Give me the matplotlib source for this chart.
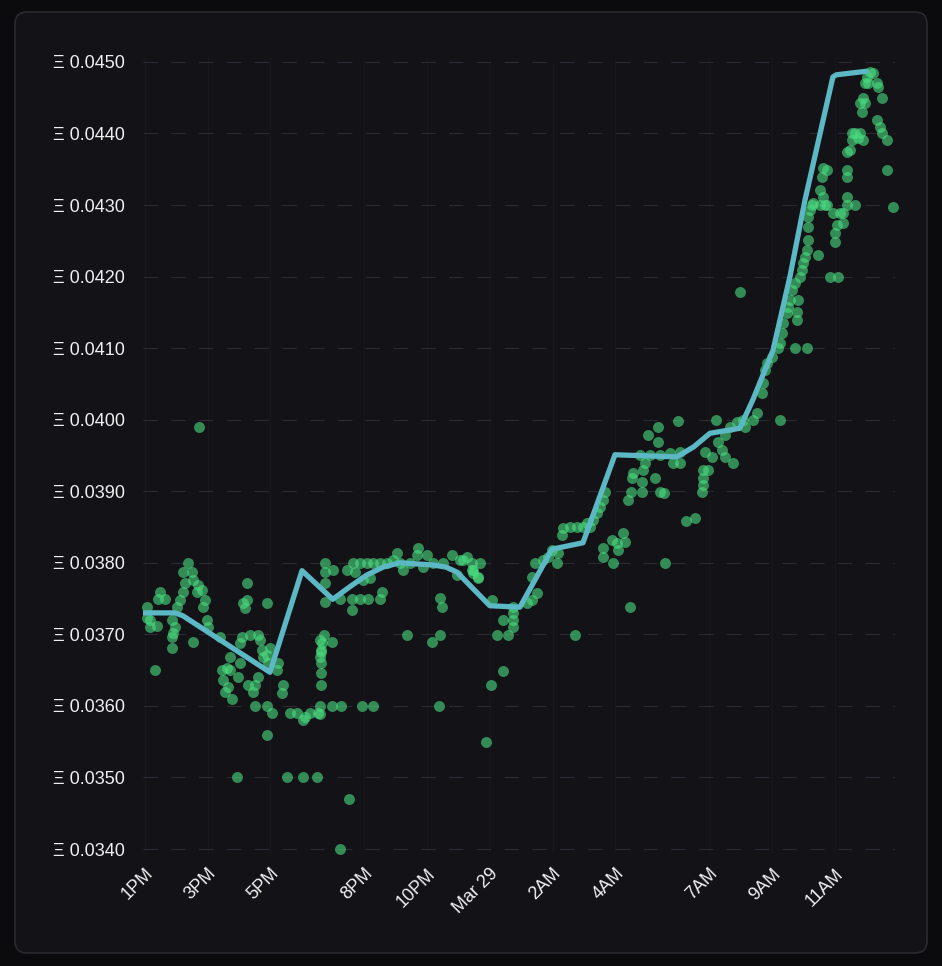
import matplotlib
matplotlib.use("Agg")
import matplotlib.pyplot as plt
from matplotlib.patches import FancyBboxPatch

# hours after 1PM (Mar 28) and price in ETH
line_hours = [-0.06, 0.96, 1.21, 3.99, 5.01, 5.99, 6.55, 7.08, 7.6, 8.13, 9.18, 9.6,
              9.95, 11.0, 11.96, 12.98, 13.97, 14.99, 16.96, 17.5, 18.02, 18.97, 19.39,
              20.03, 20.57, 21.05, 21.94, 22.05, 23.02]
line_price = [0.03730, 0.03730, 0.03726, 0.03647, 0.03789, 0.03749, 0.03767, 0.03783,
              0.03794, 0.03800, 0.03797, 0.03794, 0.03787, 0.03740, 0.03738, 0.03819,
              0.03828, 0.03951, 0.03948, 0.03962, 0.03981, 0.03988, 0.04028, 0.04097,
              0.04200, 0.04307, 0.04479, 0.04482, 0.04487]

sale_hours = [
    0.16, 0.32, 0.06, 0.41, 0.48, 0.64, 0.38, 0.16, 0.06, 0.86, 0.86, 0.89, 0.96, 1.02,
    1.12, 1.21, 1.28, 1.37, 1.21, 1.50, 1.53, 1.69, 1.66, 1.82, 1.91, 1.85, 1.98, 2.01,
    1.53, 0.86, 2.39, 2.46, 2.49, 2.61, 2.71, 2.65, 2.55, 2.77, 2.71, 2.97, 3.03, 3.09,
    3.03, 3.13, 3.25, 3.19, 3.25, 3.35, 3.60, 3.67, 3.73, 3.76, 3.89, 3.92, 4.24, 4.21,
    3.60, 3.51, 3.28, 3.44, 4.40, 4.37, 3.89, 3.99, 3.51, 3.89, 4.05, 4.62, 4.85, 5.04,
    5.26, 5.52, 5.58, 3.89, 5.58, 5.61, 5.58, 5.61, 5.61, 5.61, 5.71, 5.74, 5.74, 2.93,
    4.53, 5.04, 5.48,
    5.74, 5.99, 5.74, 6.44, 6.63, 6.86, 6.70, 7.08, 7.27, 7.49, 7.72, 7.91, 8.04, 7.17,
    6.95, 7.56, 7.49, 7.11, 6.86, 6.60, 6.60, 6.22, 8.23, 8.13, 8.71, 8.67, 8.99, 8.86,
    8.45, 9.18, 9.50, 9.79, 9.95, 10.04, 10.27, 10.43, 10.68, 10.62, 10.46, 9.41, 9.47,
    9.41, 9.15, 8.35, 11.07, 11.42, 11.73, 11.73, 11.73, 11.22, 11.58, 11.73, 11.42,
    11.03, 5.96, 5.64, 5.61, 5.58, 5.10, 5.96, 6.25, 6.92, 7.27, 9.38, 10.87, 6.51, 6.22,
    10.43, 10.46, 10.62, 10.14, 13.71, 12.18, 12.34, 12.50, 12.34, 12.44, 12.69, 12.85,
    12.98, 13.14, 13.17, 13.30, 13.33, 13.55, 13.78, 13.97, 14.09, 14.19, 14.29, 14.41,
    14.51, 14.60, 14.67, 14.60, 14.60, 14.89, 14.92, 15.05, 15.24, 15.31, 15.08, 15.47,
    16.58, 15.40, 15.50, 15.53, 15.56, 15.84, 15.88, 15.84, 15.94, 16.26, 16.42, 16.55,
    16.04, 16.36, 16.36, 17.00, 15.78, 16.10, 16.42, 16.74, 16.84,
    17.06, 17.06, 18.21, 20.25, 17.86, 18.08, 18.27, 18.49, 18.40, 18.49, 18.75, 18.65,
    18.88, 19.13, 19.39, 19.52, 19.67, 19.71, 17.79, 17.95, 17.79, 17.79, 17.76, 17.54,
    17.25,
    19.07, 19.77, 19.83, 19.99, 20.18, 20.25, 20.31, 20.34, 20.47, 20.57, 20.63, 20.73,
    20.89, 20.95, 20.98, 21.05, 21.11, 21.14, 21.14, 21.14, 21.21, 21.27, 21.52, 21.68,
    20.73, 21.11, 20.79, 20.79, 20.82, 20.50, 21.46, 21.84, 22.10, 22.00, 22.00, 22.07,
    22.26, 22.39, 22.64, 23.85, 18.97,
    21.30, 21.75, 21.62, 21.75, 21.59, 21.52, 21.62, 21.94, 22.16, 22.39, 22.26, 22.39,
    22.39, 22.39, 22.48, 22.54, 22.54, 22.64, 22.80, 22.90, 22.74, 22.80, 22.90, 22.96,
    22.86, 23.02, 23.12, 23.21, 23.34, 23.37, 23.50, 23.34, 23.44, 23.50, 23.66, 23.66,
    22.96, 23.05, 1.72,
]
sale_price = [
    0.03720, 0.03650, 0.03738, 0.03749, 0.03759, 0.03749, 0.03712, 0.03710, 0.03723,
    0.03696, 0.03681, 0.03702, 0.03710, 0.03738, 0.03748, 0.03759, 0.03772, 0.03800,
    0.03787, 0.03787, 0.03776, 0.03769, 0.03759, 0.03762, 0.03748, 0.03738, 0.03720,
    0.03710, 0.03689, 0.03720, 0.03696, 0.03650, 0.03636, 0.03653, 0.03650, 0.03626,
    0.03620, 0.03610, 0.03668, 0.03640, 0.03660, 0.03696, 0.03688, 0.03744, 0.03748,
    0.03737, 0.03772, 0.03699, 0.03699, 0.03692, 0.03678, 0.03668, 0.03671, 0.03660,
    0.03660, 0.03650, 0.03640, 0.03629, 0.03629, 0.03620, 0.03629, 0.03618, 0.03744,
    0.03681, 0.03600, 0.03600, 0.03590, 0.03590, 0.03590, 0.03580, 0.03590, 0.03590,
    0.03600, 0.03559, 0.03692, 0.03678, 0.03668, 0.03660, 0.03646, 0.03629, 0.03699,
    0.03745, 0.03787, 0.03500, 0.03500, 0.03500, 0.03500,
    0.03800, 0.03790, 0.03772, 0.03790, 0.03800, 0.03800, 0.03787, 0.03800, 0.03800,
    0.03800, 0.03800, 0.03804, 0.03814, 0.03779, 0.03776, 0.03759, 0.03749, 0.03749,
    0.03749, 0.03749, 0.03734, 0.03749, 0.03790, 0.03800, 0.03821, 0.03811, 0.03811,
    0.03794, 0.03800, 0.03800, 0.03800, 0.03811, 0.03783, 0.03804, 0.03808, 0.03790,
    0.03800, 0.03779, 0.03786, 0.03751, 0.03738, 0.03699, 0.03689, 0.03699, 0.03748,
    0.03720, 0.03720, 0.03730, 0.03710, 0.03699, 0.03699, 0.03738, 0.03649, 0.03629,
    0.03689, 0.03688, 0.03675, 0.03589, 0.03585, 0.03600, 0.03600, 0.03600, 0.03600,
    0.03600, 0.03550, 0.03470, 0.03400,
    0.03800, 0.03790, 0.03780, 0.03804, 0.03699, 0.03744, 0.03748, 0.03758, 0.03780,
    0.03800, 0.03804, 0.03808, 0.03818, 0.03800, 0.03814, 0.03839, 0.03849, 0.03850,
    0.03850, 0.03850, 0.03856, 0.03850, 0.03860, 0.03870, 0.03878, 0.03888, 0.03899,
    0.03821, 0.03808, 0.03832, 0.03800, 0.03828, 0.03842, 0.03829, 0.03818, 0.03738,
    0.03800, 0.03888, 0.03899, 0.03919, 0.03926, 0.03913, 0.03930, 0.03899, 0.03940,
    0.03919, 0.03899, 0.03898, 0.03979, 0.03990, 0.03969, 0.03998, 0.03951, 0.03951,
    0.03951, 0.03954, 0.03940,
    0.03955, 0.03940, 0.04000, 0.04000, 0.03955, 0.03948, 0.03969, 0.03979, 0.03958,
    0.03948, 0.03940, 0.03990, 0.03997, 0.03990, 0.04000, 0.04009, 0.04037, 0.04051,
    0.03930, 0.03930, 0.03919, 0.03909, 0.03899, 0.03863, 0.03858,
    0.04000, 0.04070, 0.04079, 0.04088, 0.04100, 0.04107, 0.04121, 0.04135, 0.04149,
    0.04167, 0.04181, 0.04191, 0.04200, 0.04209, 0.04219, 0.04227, 0.04237, 0.04251,
    0.04269, 0.04283, 0.04293, 0.04300, 0.04300, 0.04300, 0.04100, 0.04100, 0.04139,
    0.04151, 0.04167, 0.04158, 0.04230, 0.04200, 0.04200, 0.04248, 0.04261, 0.04272,
    0.04289, 0.04300, 0.04300, 0.04297, 0.04179,
    0.04303, 0.04300, 0.04352, 0.04349, 0.04339, 0.04321, 0.04311, 0.04289, 0.04289,
    0.04311, 0.04275, 0.04349, 0.04339, 0.04374, 0.04377, 0.04391, 0.04401, 0.04401,
    0.04401, 0.04391, 0.04394, 0.04443, 0.04450, 0.04443, 0.04430, 0.04479, 0.04486,
    0.04485, 0.04471, 0.04465, 0.04450, 0.04419, 0.04409, 0.04401, 0.04391, 0.04349,
    0.04471, 0.04471, 0.03990,
]

tick_hours = [0, 2, 4, 7, 9, 11, 13, 15, 18, 20, 22]
tick_labels = ["1PM", "3PM", "5PM", "8PM", "10PM", "Mar 29", "2AM", "4AM", "7AM", "9AM", "11AM"]
price_ticks = [0.0340, 0.0350, 0.0360, 0.0370, 0.0380, 0.0390, 0.0400, 0.0410, 0.0420,
               0.0430, 0.0440, 0.0450]

plt.rcParams['font.family'] = ['Liberation Sans', 'DejaVu Sans']

fig = plt.figure(figsize=(9.42, 9.66), dpi=100, facecolor='#0b0a0d')
card = FancyBboxPatch((15, 13), 912, 941, boxstyle="round,pad=0,rounding_size=12",
                      transform=None, facecolor='#131217', edgecolor='#2a292f',
                      linewidth=1.2, zorder=-10)
fig.patches.append(card)

ax = fig.add_axes([143 / 942, 0.1174, 752 / 942, 0.8222])
ax.set_facecolor('none')
ax.set_zorder(5)

ax.scatter(sale_hours, sale_price, s=62, color='#4ade80', alpha=0.6, linewidths=0,
           zorder=2, clip_on=False)
ax.plot(line_hours, line_price, color='#5bb8c4', lw=3.8, solid_joinstyle='round',
        solid_capstyle='round', zorder=3)

ax.set_xlim(-0.06, 23.92)
ax.set_ylim(0.03395, 0.04505)

ax.set_yticks(price_ticks)
ax.set_yticklabels(["\u039e %.4f" % v for v in price_ticks])
ax.set_xticks(tick_hours)
ax.set_xticklabels(tick_labels, rotation=45, ha='right', rotation_mode='anchor')

ax.tick_params(axis='y', length=0, pad=13, labelsize=13, labelcolor='#f0f0f0')
ax.tick_params(axis='x', length=0, pad=9, labelsize=13, labelcolor='#f0f0f0')
for s in ax.spines.values():
    s.set_visible(False)

ax.grid(axis='y', color='#2a2a34', lw=0.8, linestyle=(0, (13, 12)), zorder=0)
ax.grid(axis='x', color='#18171d', lw=0.8, zorder=0)
ax.set_axisbelow(True)

fig.savefig('out.png', dpi=100, facecolor=fig.get_facecolor())
